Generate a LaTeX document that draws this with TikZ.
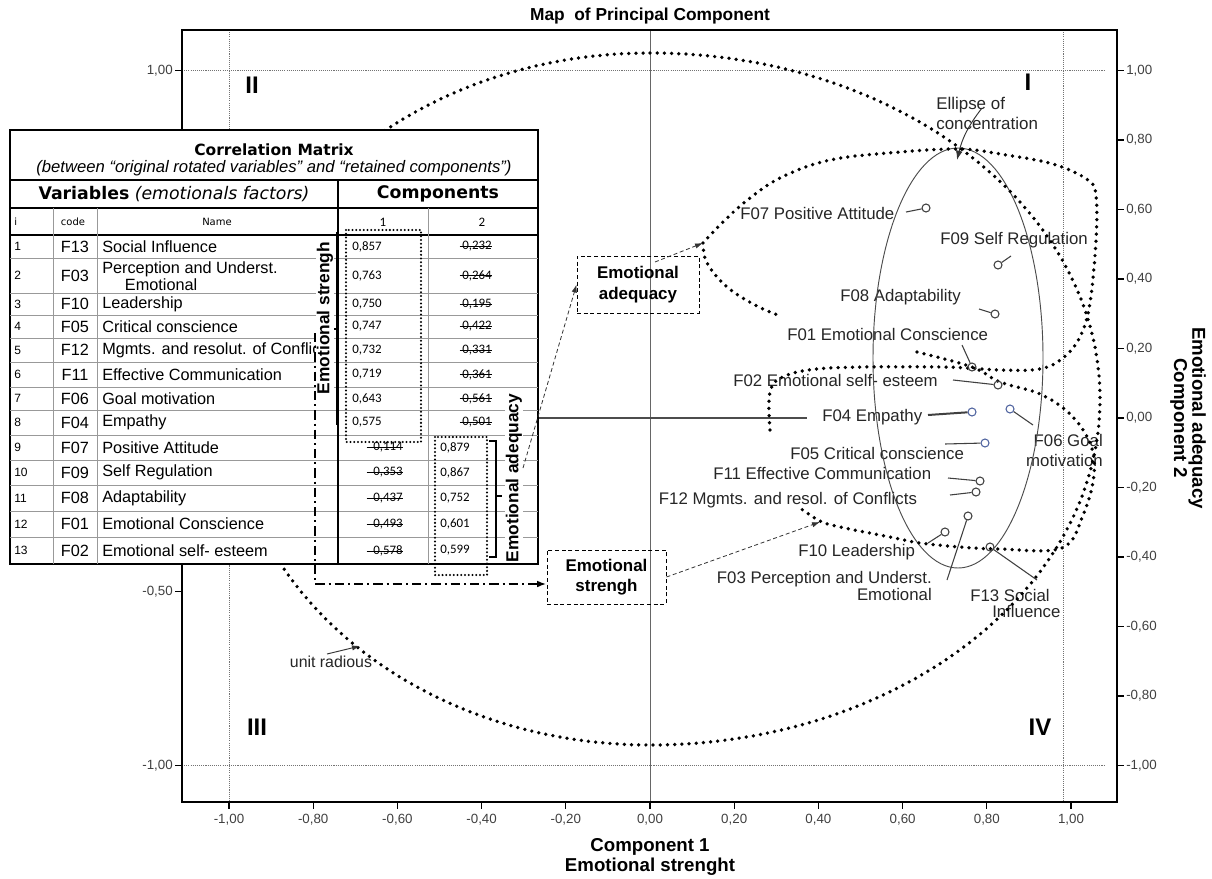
\documentclass[tikz,border=0pt]{standalone}
\usepackage{fontspec}
\setmainfont{Liberation Sans}
\newfontfamily\dejavu{DejaVu Sans}
\newfontfamily\calib{Carlito}
\usetikzlibrary{arrows.meta}
\definecolor{ptblue}{RGB}{80,100,160}
% struck-out loading: rule through the text, overhanging on the left
\newcommand\strk[2][2pt]{\setbox0=\hbox{#2}\rlap{\kern-#1\rule[0.45ex]{\dimexpr\wd0+#1+0.5pt\relax}{0.6pt}}\box0}
\begin{document}
\begin{tikzpicture}[x=0.75pt,y=-0.75pt,
  bigdot/.style={line width=2.8pt,line cap=round,dash pattern=on 0pt off 5.4pt},
  griddot/.style={black!55,line width=0.6pt,dash pattern=on 0.8pt off 0.8pt},
  lbl/.style={font=\fontsize{12.6}{15}\selectfont,text=black!85,inner sep=0pt},
  datapt/.style={circle,draw=black!75,line width=0.8pt,minimum size=6pt,inner sep=0pt},
  bluept/.style={datapt,draw=ptblue},
  leader/.style={black!75,line width=0.8pt},
  ticklbl/.style={font=\fontsize{10}{12}\selectfont,text=black!75,inner sep=0pt},
  axt/.style={font=\bfseries\fontsize{14}{15}\selectfont,inner sep=0pt},
  quad/.style={font=\bfseries\fontsize{18}{20}\selectfont,inner sep=0pt},
  rowtxt/.style={font=\fontsize{12.2}{14}\selectfont,inner sep=0pt},
  numtxt/.style={font=\calib\fontsize{9.7}{11}\selectfont,inner sep=0pt},
  brlbl/.style={font=\bfseries\fontsize{13}{15}\selectfont,fill=white,inner sep=0.5pt,rotate=90},
  boxdot/.style={line width=1.7pt,line cap=round,dash pattern=on 0pt off 2.8pt},
  dashbox/.style={draw,line width=0.7pt,dash pattern=on 3pt off 2pt,align=center,
    font=\bfseries\fontsize{12.7}{15.5}\selectfont},
  dasharrow/.style={black!80,line width=0.6pt,dash pattern=on 3pt off 2pt,-{Latex[length=6pt,width=4pt]}},
  dashdot/.style={line width=1.4pt,dash pattern=on 7pt off 3pt on 1.5pt off 3pt,-{Latex[length=7pt,width=5pt]}}
]
\useasboundingbox (0,0) rectangle (1212,878);
\fill[white] (0,0) rectangle (1212,878);

% title
\node[font=\bfseries\fontsize{13}{15}\selectfont,inner sep=0pt] (title) at (650,16) {Map\ \ of Principal Component};

% reference lines
\draw[griddot] (182,70.5) -- (1105,70.5);
\draw[griddot] (182,765.5) -- (1105,765.5);
\draw[griddot] (229,30) -- (229,802);
\draw[griddot] (1063,30) -- (1063,802);
\draw[black!60,line width=0.7pt] (650,30) -- (650,802);
\draw[black!70,line width=0.9pt] (538,418) -- (807,418);

% frame and ticks
\draw[line width=1.5pt] (182,30) rectangle (1117,802);
\foreach \yy/\t in {70.5/{1,00},140/{0,80},209.5/{0,60},279/{0,40},348.5/{0,20},418/{0,00},487.5/{-0,20},557/{-0,40},626.5/{-0,60},696/{-0,80},765.5/{-1,00}}{
  \draw[line width=0.8pt] (1117,\yy) -- (1124,\yy);
  \node[ticklbl,anchor=west] (rt\yy) at (1126,\yy) {\t};
}
\foreach \yy/\t in {70.5/{1,00},591.75/{-0,50},765.5/{-1,00}}{
  \draw[line width=0.8pt] (182,\yy) -- (175,\yy);
  \node[ticklbl,anchor=east] (lt\yy) at (173,\yy) {\t};
}
\foreach \xx/\t in {229/{-1,00},313.2/{-0,80},397.4/{-0,60},481.6/{-0,40},565.8/{-0,20},650/{0,00},734.2/{0,20},818.4/{0,40},902.6/{0,60},986.8/{0,80},1071/{1,00}}{
  \draw[line width=0.8pt] (\xx,802) -- (\xx,809);
  \node[ticklbl] (bt\xx) at (\xx,820) {\t};
}

% axis titles
\node[axt,align=center,font=\bfseries\fontsize{14}{15}\selectfont] (xtitle) at (650,857) {Component 1\\Emotional strenght};
\node[axt,align=center,rotate=-90,font=\bfseries\fontsize{14}{11.5}\selectfont] (ytitle) at (1188,418) {Emotional adequacy\\Component 2};

% quadrants
\node[quad] (q2) at (252,85) {II};
\node[quad] (q1) at (1028,82) {I};
\node[quad] (q3) at (257,727) {III};
\node[quad] (q4) at (1040,727) {IV};

% variable labels
\node[lbl,anchor=west] (l07) at (740,213) {F07 Positive Attitude};
\node[lbl,anchor=west] (l09) at (940,240) {F09 Self Regulation};
\node[lbl,anchor=west] (l08) at (840,297) {F08 Adaptability};
\node[lbl,anchor=west] (l01) at (787,334) {F01 Emotional Conscience};
\node[lbl,anchor=west] (l02) at (733,380) {F02 Emotional self- esteem};
\node[lbl,anchor=west] (l04) at (822,417) {F04 Empathy};
\node[lbl,anchor=east,align=right] (l06) at (1103,450) {F06 Goal\\motivation};
\node[lbl,anchor=west] (l05) at (790,453) {F05 Critical conscience};
\node[lbl,anchor=west] (l11) at (713,473) {F11 Effective Communication};
\node[lbl,anchor=west,fill=white,inner sep=2pt] (l12) at (656,500) {F12 Mgmts. and resol. of Conflicts};
\node[lbl,anchor=west] (l10) at (798,552) {F10 Leadership};
\node[lbl,anchor=east,align=right,font=\fontsize{12.6}{11.25}\selectfont] (l03) at (932,585.5) {F03 Perception and Underst.\\Emotional};
\node[lbl,anchor=west,align=left,font=\fontsize{12.6}{12}\selectfont] (l13) at (970,603) {F13 Social\\\hspace*{16.5pt}Influence};

% ellipse of concentration
\draw[black!70,line width=0.7pt] (958,358) ellipse[x radius=63.75pt,y radius=157.5pt];
\node[lbl,anchor=west,align=left,font=\fontsize{12.7}{15}\selectfont] (elab) at (936,113) {Ellipse of\\concentration};
\coordinate (els) at (982,108);
\coordinate (ele) at (957,160);
\draw[black!80,line width=0.7pt,-{Latex[length=7pt,width=5pt]}] (els) to[bend right=12] (ele);

% unit circle
\draw[bigdot] (650,53) arc[start angle=90,end angle=-90,x radius=337.5pt,y radius=259.5pt]
  arc[start angle=270,end angle=90,x radius=315pt,y radius=259.5pt];
\node[lbl,font=\fontsize{11.9}{14}\selectfont] (ulab) at (331,662) {unit radious};
\coordinate (urs) at (327,654);
\coordinate (ure) at (360,646);
\draw[black!80,line width=0.7pt,-{Latex[length=6pt,width=4pt]}] (urs) -- (ure);

% group outlines
\draw[bigdot] plot[smooth,tension=0.6] coordinates {(770,430) (770,392) (785,376) (830,368) (940,367) (1000,370) (1040,369) (1063,358) (1080,337) (1090,303) (1096,240) (1096,196) (1088,180) (1053,164) (1000,154) (960,149) (900,152) (830,160) (780,178) (745,202) (720,225) (703,243)};
\draw[bigdot] plot[smooth,tension=0.6] coordinates {(703,243) (707,263) (727,287) (755,305) (780,316)};
\draw[bigdot] plot[smooth,tension=0.6] coordinates {(917,352) (972,367) (1000,382) (1040,394) (1070,414) (1090,443) (1094,475) (1083,515) (1062,548) (1000,549) (960,547) (920,543) (890,537) (840,527) (820,521) (800,508)};

% data points and leaders
\node[datapt] (p07) at (926,208) {};
\node[datapt] (p09) at (998,265) {};
\node[datapt] (p08) at (995,314) {};
\node[datapt] (p01) at (972,367) {};
\node[datapt] (p02) at (998,385) {};
\node[bluept] (p04) at (972,412) {};
\node[bluept] (p06) at (1010,409) {};
\node[bluept] (p05) at (985,443) {};
\node[datapt] (p11) at (980,481) {};
\node[datapt] (p12) at (976,492) {};
\node[datapt] (p10) at (945,532) {};
\node[datapt] (p03) at (968,516) {};
\node[datapt] (p13) at (990,547) {};
\coordinate (c07) at (906,212);
\coordinate (c09) at (1011,256);
\coordinate (c08) at (979,309);
\coordinate (c01) at (962,345);
\coordinate (c02) at (953,380);
\coordinate (c04) at (928,415);
\coordinate (c06) at (1033,425);
\coordinate (c05) at (945,444);
\coordinate (c11) at (948,478);
\coordinate (c12) at (950,495);
\coordinate (c10) at (928,543);
\coordinate (c03) at (947,580);
\coordinate (c13) at (1037,580);
\foreach \k in {07,09,08,01,02,06,05,11,12,10,03,13}{\draw[leader] (c\k) -- (p\k);}
\draw[leader,line width=1.5pt] (c04) -- (p04);

% correlation matrix
\draw[line width=1.2pt,fill=white] (10,130) rectangle (538,564);
\draw[line width=0.8pt] (10,180) -- (538,180);
\draw[line width=1pt] (10,208) -- (538,208);
\draw[line width=1pt] (10,235) -- (538,235);
\foreach \yy in {258,293,315,338,362,387,410,435,460,485,511,537}{\draw[black!40,line width=0.5pt] (10,\yy) -- (538,\yy);}
\foreach \xx in {53,97,428}{\draw[black!40,line width=0.5pt] (\xx,208) -- (\xx,564);}
\draw[line width=1pt] (338,180) -- (338,564);

\node[font=\dejavu\bfseries\fontsize{11.6}{13}\selectfont,inner sep=0pt] (cmt) at (274,150) {Correlation Matrix};
\node[font=\itshape\fontsize{12.5}{14}\selectfont,inner sep=0pt] (cms) at (274,168) {(between “original rotated variables” and “retained components”)};
\node[font=\dejavu\fontsize{13}{15}\selectfont,inner sep=0pt] (hv) at (174,194) {\textbf{Variables} \textit{(emotionals factors)}};
\node[font=\dejavu\bfseries\fontsize{13}{15}\selectfont,inner sep=0pt] (hc) at (438,194) {Components};
\node[font=\dejavu\fontsize{7.5}{9}\selectfont,inner sep=0pt,anchor=west] (hi) at (14,222) {i};
\node[font=\dejavu\fontsize{7.5}{9}\selectfont,inner sep=0pt] (hcode) at (73,222) {code};
\node[font=\dejavu\fontsize{7.5}{9}\selectfont,inner sep=0pt] (hname) at (217,222) {Name};
\node[numtxt] (h1) at (383,222) {1};
\node[numtxt] (h2) at (482,222) {2};

\foreach \i/\c/\nm/\y/\va/\vb in {1/F13/{Social Influence}/246.5/{0,857}/{0,232},
  2/F03/{}/275.5/{0,763}/{0,264},3/F10/{Leadership}/304/{0,750}/{0,195},
  4/F05/{Critical conscience}/326.5/{0,747}/{0,422},
  5/F12/{Mgmts. and resolut. of Conflicts}/350/{0,732}/{0,331},
  6/F11/{Effective Communication}/374.5/{0,719}/{0,361},
  7/F06/{Goal motivation}/398.5/{0,643}/{0,561},8/F04/{Empathy}/422.5/{0,575}/{0,501}}{
  \node[numtxt,font=\fontsize{9}{10}\selectfont,anchor=west] (ti\i) at (14,\y) {\i};
  \node[rowtxt] (tc\i) at (75,\y) {\c};
  \node[rowtxt,anchor=west] (tn\i) at (102,\y) {\nm};
  \node[numtxt,anchor=west] (ta\i) at (352,\y) {\va};
  \node[numtxt] (tb\i) at (477,\y) {\strk{\vb}};
}
\foreach \i/\c/\nm/\y/\va/\vb in {9/F07/{Positive Attitude}/447.5/{0,114}/{0,879},
  10/F09/{Self Regulation}/472.5/{0,353}/{0,867},11/F08/{Adaptability}/498/{0,437}/{0,752},
  12/F01/{Emotional Conscience}/524/{0,493}/{0,601},13/F02/{Emotional self- esteem}/550.5/{0,578}/{0,599}}{
  \node[numtxt,font=\fontsize{9}{10}\selectfont,anchor=west] (ti\i) at (14,\y) {\i};
  \node[rowtxt] (tc\i) at (75,\y) {\c};
  \node[rowtxt,anchor=west] (tn\i) at (102,\y) {\nm};
  \node[numtxt] (ta\i) at (388,\y) {\strk[5pt]{\va}};
  \node[numtxt,anchor=west] (tb\i) at (440,\y) {\vb};
}
\node[rowtxt,anchor=west,align=left,font=\fontsize{12.2}{9.6}\selectfont] (tn2) at (102,276) {Perception and Underst.\\\hspace*{17pt}Emotional};

% loading groups inside the matrix
\draw[boxdot] (346,230) rectangle (421,442);
\draw[boxdot] (435,437) rectangle (487,575);
\draw[line width=1.3pt] (337,232) -- (337,425);
\draw[line width=1pt] (337,329) -- (330,329);
\node[brlbl] (bls) at (325,318) {Emotional strengh};
\draw[line width=0.9pt] (489,441) -- (496,441) -- (496,557) -- (489,557);
\draw[line width=0.9pt] (496,496) -- (502,496);
\node[brlbl] (bla) at (514,478) {Emotional adequacy};

% group boxes and arrows
\node[dashbox,minimum width=91.5pt,minimum height=42.75pt] (boxA) at (638,284.5) {Emotional\\adequacy};
\node[dashbox,minimum width=89.25pt,minimum height=40.5pt] (boxS) at (606.5,577) {Emotional\\strengh};
\coordinate (a1) at (523,468);
\draw[dasharrow] (a1) -- (boxA.west);
\coordinate (a2s) at (655,262);
\coordinate (a2e) at (703,243);
\draw[dasharrow] (a2s) -- (a2e);
\coordinate (a3e) at (820,522);
\draw[dasharrow] (boxS.east) -- (a3e);
\coordinate (sdd) at (315,333);
\coordinate (sdc) at (315,584);
\draw[dashdot] (sdd) -- (sdc) -- (sdc -| boxS.west);
\end{tikzpicture}
\end{document}
